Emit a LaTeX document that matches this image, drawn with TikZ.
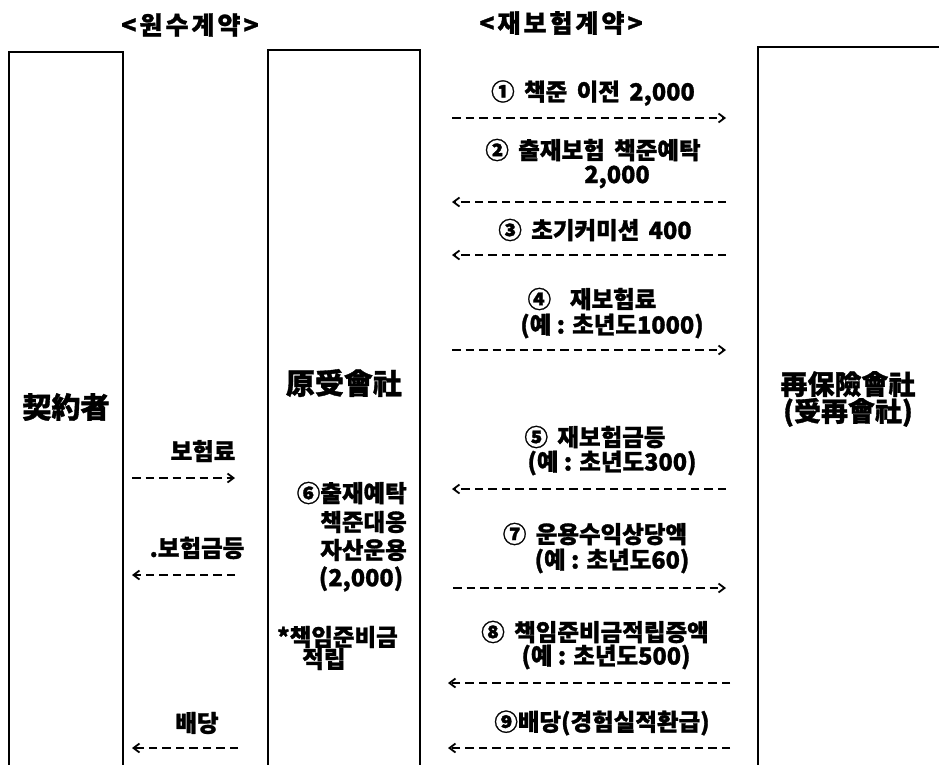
\documentclass[tikz,border=0pt]{standalone}
\usepackage{fontspec}
\setmainfont{Noto Sans CJK KR}[BoldFeatures={FakeBold=1.2}]
\usetikzlibrary{arrows.meta}
\newcommand\kgap{\hspace{0.4em}}
\begin{document}
\begin{tikzpicture}[x=1pt,y=-1pt,
  boxline/.style={draw, line width=1.9pt, inner sep=0pt, anchor=north west, minimum height=800pt},
  big/.style={font=\bfseries\fontsize{29}{32}\selectfont, inner sep=0pt},
  big2/.style={font=\bfseries\fontsize{27}{24}\selectfont, inner sep=0pt, align=center},
  head/.style={font=\bfseries\fontsize{25}{26}\selectfont\addfontfeatures{LetterSpace=12}, inner sep=0pt},
  lab/.style={font=\bfseries\fontsize{23.5}{26}\selectfont, inner sep=0pt},
  flow/.style={line width=2pt, dash pattern=on 8.5pt off 5pt, -{Straight Barb[length=6pt,width=9pt,line width=1.8pt]}}]
\useasboundingbox (0,0) rectangle (939,764);
\clip (0,0) rectangle (939,764);
% boxes (open at the bottom of the picture)
\node[boxline, minimum width=114pt] (contbox) at (8,51) {};
\node[boxline, minimum width=152pt] (cedbox) at (267,49) {};
\node[boxline, minimum width=300pt] (reinbox) at (757,46) {};
% headings
\node[head] (h1) at (190,25) {<원수계약>};
\node[head] (h2) at (561,23) {<재보험계약>};
% box titles
\node[big] (contractor) at (66,407) {契約者};
\node[big] (cedent) at (344,383) {原受會社};
\node[big2] (reinsurer) at (848,399) {再保險會社\\(受再會社)};
% reinsurance labels
\node[lab] (l1) at (593,93) {①\kgap 책준\kgap 이전\kgap 2,000};
\node[lab] (l2a) at (593,150) {②\kgap 출재보험\kgap 책준예탁};
\node[lab] (l2b) at (617,177) {2,000};
\node[lab] (l3) at (595,230) {③\kgap 초기커미션\kgap 400};
\node[lab] (l4a) at (592,299) {④\kgap\kgap 재보험료};
\node[lab] (l4b) at (612,326) {(예 : 초년도1000)};
\node[lab] (l5a) at (595,437) {⑤\kgap 재보험금등};
\node[lab] (l5b) at (612,463) {(예 : 초년도300)};
\node[lab] (l7a) at (595,534) {⑦\kgap 운용수익상당액};
\node[lab] (l7b) at (612,561) {(예 : 초년도60)};
\node[lab] (l8a) at (595,632) {⑧\kgap 책임준비금적립증액};
\node[lab] (l8b) at (606,657) {(예 : 초년도500)};
\node[lab] (l9) at (602,723) {⑨배당(경험실적환급)};
% original contract labels
\node[lab] (p1) at (203,451) {보험료};
\node[lab] (p2) at (197,548) {.보험금등};
\node[lab] (p3) at (197,723) {배당};
% cedent inner notes
\node[lab, anchor=east] (m1) at (407,493) {⑥출재예탁};
\node[lab, anchor=east] (m2) at (407,522) {책준대응};
\node[lab, anchor=east] (m3) at (407,550) {자산운용};
\node[lab] (m4) at (361,579) {(2,000)};
\node[lab, anchor=west] (m5) at (277,637) {*책임준비금};
\node[lab, anchor=west] (m6) at (302,659) {적립};
% arrow end points
\coordinate (a1l) at (452,118); \coordinate (a1r) at (726,118);
\coordinate (a2l) at (452,202); \coordinate (a2r) at (726,202);
\coordinate (a3l) at (452,255); \coordinate (a3r) at (726,255);
\coordinate (a4l) at (452,350); \coordinate (a4r) at (726,350);
\coordinate (a5l) at (452,489); \coordinate (a5r) at (726,489);
\coordinate (a7l) at (453,588); \coordinate (a7r) at (726,588);
\coordinate (a8l) at (448,683); \coordinate (a8r) at (730,683);
\coordinate (a9l) at (448,748); \coordinate (a9r) at (730,748);
\coordinate (b1l) at (132,478); \coordinate (b1r) at (235,478);
\coordinate (b2l) at (132,575); \coordinate (b2r) at (235,575);
\coordinate (b3l) at (132,748); \coordinate (b3r) at (238,748);
% arrows
\draw[flow] (a1l) -- (a1r);
\draw[flow] (a2r) -- (a2l);
\draw[flow] (a3r) -- (a3l);
\draw[flow] (a4l) -- (a4r);
\draw[flow] (a5r) -- (a5l);
\draw[flow] (a7l) -- (a7r);
\draw[flow] (a8r) -- (a8l);
\draw[flow] (a9r) -- (a9l);
\draw[flow] (b1l) -- (b1r);
\draw[flow] (b2r) -- (b2l);
\draw[flow] (b3r) -- (b3l);
\end{tikzpicture}
\end{document}
